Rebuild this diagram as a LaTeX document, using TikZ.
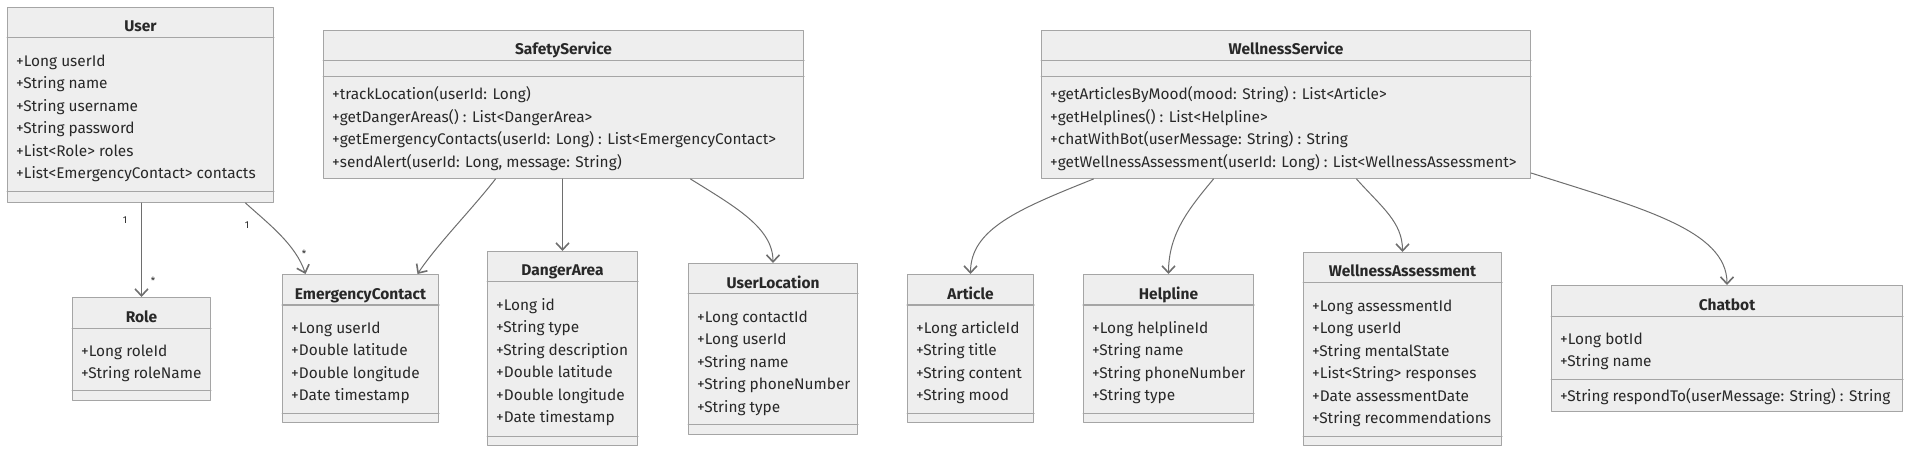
\documentclass[tikz,border=0pt]{standalone}
\usepackage{fontspec}
\setmainfont{Fira Sans}
\usetikzlibrary{arrows.meta,calc}
\definecolor{classfill}{RGB}{238,238,238}
\definecolor{classedge}{RGB}{165,165,165}
\definecolor{assocgray}{RGB}{110,110,110}
\definecolor{membertext}{RGB}{40,40,40}
\begin{document}
\begin{tikzpicture}[x=1pt,y=-1pt,line cap=round,line join=round,
 classbox/.style={draw=classedge,fill=classfill,line width=1pt,inner sep=0pt,anchor=north west},
 classname/.style={anchor=base,inner sep=0pt,text=membertext,font=\fontsize{15.5}{19}\selectfont\bfseries},
 member/.style={anchor=base west,inner sep=0pt,text=membertext,font=\fontsize{15.4}{19}\selectfont},
 divider/.style={draw=classedge,line width=1pt},
 assoc/.style={draw=assocgray,line width=1pt,-{Straight Barb[length=7pt,width=13pt,line width=1.6pt]}},
 mult/.style={inner sep=0pt,text=membertext,font=\fontsize{10}{12}\selectfont}]
\useasboundingbox (0,0) rectangle (1911,454);
% Klasy modelu: User, Role, EmergencyContact.
\node[classbox,minimum width=266pt,minimum height=195pt] (user) at (7,7) {};
\draw[divider] ([yshift=-31pt]user.north west)--([yshift=-31pt]user.north east);
\draw[divider] ([yshift=11pt]user.south west)--([yshift=11pt]user.south east);
\node[classname] (userT) at ([yshift=-25pt]user.north) {User};
\node[member] (user1) at (16,66.5) {+Long userId};
\node[member] (user2) at (16,88.9) {+String name};
\node[member] (user3) at (16,111.3) {+String username};
\node[member] (user4) at (16,133.7) {+String password};
\node[member] (user5) at (16,156.1) {+List<Role> roles};
\node[member] (user6) at (16,178.5) {+List<EmergencyContact> contacts};
\node[classbox,minimum width=138pt,minimum height=103pt] (role) at (72,297) {};
\draw[divider] ([yshift=-31pt]role.north west)--([yshift=-31pt]role.north east);
\draw[divider] ([yshift=11pt]role.south west)--([yshift=11pt]role.south east);
\node[classname] (roleT) at ([yshift=-25pt]role.north) {Role};
\node[member] (role1) at (81,356.5) {+Long roleId};
\node[member] (role2) at (81,378.9) {+String roleName};
\node[classbox,minimum width=156pt,minimum height=148pt] (ecnt) at (282,274) {};
\draw[divider] ([yshift=-31pt]ecnt.north west)--([yshift=-31pt]ecnt.north east);
\draw[divider] ([yshift=10pt]ecnt.south west)--([yshift=10pt]ecnt.south east);
\node[classname] (ecntT) at ([yshift=-25pt]ecnt.north) {EmergencyContact};
\node[member] (ecnt1) at (291,333.5) {+Long userId};
\node[member] (ecnt2) at (291,355.9) {+Double latitude};
\node[member] (ecnt3) at (291,378.3) {+Double longitude};
\node[member] (ecnt4) at (291,400.7) {+Date timestamp};
% SafetyService i jego klasy.
\node[classbox,minimum width=480pt,minimum height=148pt] (safety) at (323,30) {};
\draw[divider] ([yshift=-31pt]safety.north west)--([yshift=-31pt]safety.north east);
\draw[divider] ([yshift=-47pt]safety.north west)--([yshift=-47pt]safety.north east);
\node[classname] (safetyT) at ([yshift=-25pt]safety.north) {SafetyService};
\node[member] (safety1) at (332,100) {+trackLocation(userId: Long)};
\node[member] (safety2) at (332,122.4) {+getDangerAreas() : List<DangerArea>};
\node[member] (safety3) at (332,144.8) {+getEmergencyContacts(userId: Long) : List<EmergencyContact>};
\node[member] (safety4) at (332,167.2) {+sendAlert(userId: Long, message: String)};
\node[classbox,minimum width=150pt,minimum height=194pt] (danger) at (487,251) {};
\draw[divider] ([yshift=-31pt]danger.north west)--([yshift=-31pt]danger.north east);
\draw[divider] ([yshift=10pt]danger.south west)--([yshift=10pt]danger.south east);
\node[classname] (dangerT) at ([yshift=-25pt]danger.north) {DangerArea};
\node[member] (danger1) at (496,310.5) {+Long id};
\node[member] (danger2) at (496,332.9) {+String type};
\node[member] (danger3) at (496,355.3) {+String description};
\node[member] (danger4) at (496,377.7) {+Double latitude};
\node[member] (danger5) at (496,400.1) {+Double longitude};
\node[member] (danger6) at (496,422.5) {+Date timestamp};
\node[classbox,minimum width=169pt,minimum height=171pt] (uloc) at (688,263) {};
\draw[divider] ([yshift=-31pt]uloc.north west)--([yshift=-31pt]uloc.north east);
\draw[divider] ([yshift=11pt]uloc.south west)--([yshift=11pt]uloc.south east);
\node[classname] (ulocT) at ([yshift=-25pt]uloc.north) {UserLocation};
\node[member] (uloc1) at (697,322.5) {+Long contactId};
\node[member] (uloc2) at (697,344.9) {+Long userId};
\node[member] (uloc3) at (697,367.3) {+String name};
\node[member] (uloc4) at (697,389.7) {+String phoneNumber};
\node[member] (uloc5) at (697,412.1) {+String type};
% WellnessService i jego klasy.
\node[classbox,minimum width=489pt,minimum height=148pt] (wellness) at (1041,30) {};
\draw[divider] ([yshift=-31pt]wellness.north west)--([yshift=-31pt]wellness.north east);
\draw[divider] ([yshift=-47pt]wellness.north west)--([yshift=-47pt]wellness.north east);
\node[classname] (wellnessT) at ([yshift=-25pt]wellness.north) {WellnessService};
\node[member] (wellness1) at (1050,100) {+getArticlesByMood(mood: String) : List<Article>};
\node[member] (wellness2) at (1050,122.4) {+getHelplines() : List<Helpline>};
\node[member] (wellness3) at (1050,144.8) {+chatWithBot(userMessage: String) : String};
\node[member] (wellness4) at (1050,167.2) {+getWellnessAssessment(userId: Long) : List<WellnessAssessment>};
\node[classbox,minimum width=126pt,minimum height=148pt] (article) at (907,274) {};
\draw[divider] ([yshift=-31pt]article.north west)--([yshift=-31pt]article.north east);
\draw[divider] ([yshift=10pt]article.south west)--([yshift=10pt]article.south east);
\node[classname] (articleT) at ([yshift=-25pt]article.north) {Article};
\node[member] (article1) at (916,333.5) {+Long articleId};
\node[member] (article2) at (916,355.9) {+String title};
\node[member] (article3) at (916,378.3) {+String content};
\node[member] (article4) at (916,400.7) {+String mood};
\node[classbox,minimum width=170pt,minimum height=148pt] (helpline) at (1083,274) {};
\draw[divider] ([yshift=-31pt]helpline.north west)--([yshift=-31pt]helpline.north east);
\draw[divider] ([yshift=10pt]helpline.south west)--([yshift=10pt]helpline.south east);
\node[classname] (helplineT) at ([yshift=-25pt]helpline.north) {Helpline};
\node[member] (helpline1) at (1092,333.5) {+Long helplineId};
\node[member] (helpline2) at (1092,355.9) {+String name};
\node[member] (helpline3) at (1092,378.3) {+String phoneNumber};
\node[member] (helpline4) at (1092,400.7) {+String type};
\node[classbox,minimum width=198pt,minimum height=193pt] (assess) at (1303,252) {};
\draw[divider] ([yshift=-31pt]assess.north west)--([yshift=-31pt]assess.north east);
\draw[divider] ([yshift=10pt]assess.south west)--([yshift=10pt]assess.south east);
\node[classname] (assessT) at ([yshift=-25pt]assess.north) {WellnessAssessment};
\node[member] (assess1) at (1312,311.5) {+Long assessmentId};
\node[member] (assess2) at (1312,333.9) {+Long userId};
\node[member] (assess3) at (1312,356.3) {+String mentalState};
\node[member] (assess4) at (1312,378.7) {+List<String> responses};
\node[member] (assess5) at (1312,401.1) {+Date assessmentDate};
\node[member] (assess6) at (1312,423.5) {+String recommendations};
\node[classbox,minimum width=351pt,minimum height=126pt] (chatbot) at (1551,285) {};
\draw[divider] ([yshift=-31pt]chatbot.north west)--([yshift=-31pt]chatbot.north east);
\draw[divider] ([yshift=33pt]chatbot.south west)--([yshift=33pt]chatbot.south east);
\node[classname] (chatbotT) at ([yshift=-25pt]chatbot.north) {Chatbot};
\node[member] (chatbot1) at (1560,344.5) {+Long botId};
\node[member] (chatbot2) at (1560,366.9) {+String name};
\node[member] (chatbot3) at (1560,401) {+String respondTo(userMessage: String) : String};
% Powiazania.
\draw[assoc] (role.north |- user.south)--(role.north);
\node[mult] (userRole1) at (125,220) {1};
\node[mult] (userRoleN) at (153,281) {*};
\draw[assoc] ([xshift=105pt]user.south) .. controls +(22,20) and +(-10,-30) .. ([xshift=-55pt]ecnt.north);
\node[mult] (userEcnt1) at (247,225) {1};
\node[mult] (userEcntN) at (304,254) {*};
\draw[assoc] ([xshift=-68pt]safety.south) .. controls +(-25,32) and +(20,-30) .. ([xshift=57pt]ecnt.north);
\draw[assoc] (danger.north |- safety.south)--(danger.north);
\draw[assoc] ([xshift=127pt]safety.south) .. controls +(45,28) and +(0,-35) .. (uloc.north);
\draw[assoc] ([xshift=-192.5pt]wellness.south) .. controls +(-75,30) and +(0,-45) .. (article.north);
\draw[assoc] ([xshift=-72.5pt]wellness.south) .. controls +(-25,30) and +(0,-40) .. (helpline.north);
\draw[assoc] ([xshift=70.5pt]wellness.south) .. controls +(25,28) and +(0,-30) .. (assess.north);
\draw[assoc] ([yshift=6pt]wellness.south east) .. controls +(110,35) and +(0,-55) .. (chatbot.north);
\end{tikzpicture}
\end{document}
